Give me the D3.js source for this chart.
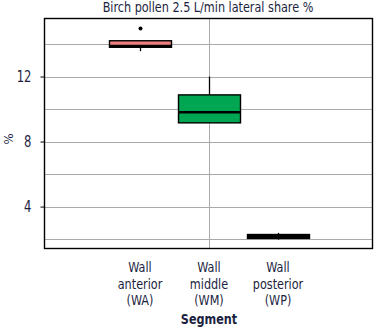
<!DOCTYPE html>
<html><head><meta charset="utf-8">
<script src="https://cdn.jsdelivr.net/npm/d3@7"></script>
<style>
html,body{margin:0;padding:0;background:#fff;}
text{font-family:"DejaVu Sans Condensed","DejaVu Sans",sans-serif;font-stretch:condensed;}
</style></head>
<body><svg id="c" width="374" height="329"></svg>
<script>
// Data
const categories = ["Wall anterior (WA)", "Wall middle (WM)", "Wall posterior (WP)"];
const labelLines = [["Wall","anterior","(WA)"],["Wall","middle","(WM)"],["Wall","posterior","(WP)"]];
const whiskerLow  = [13.56, 9.15, 1.97];
const q1          = [13.80, 9.15, 2.04];
const median      = [13.87, 9.80, 2.16];
const q3          = [14.20, 10.87, 2.28];
const whiskerHigh = [14.20, 12.00, 2.38];
const outliers    = [[14.95], [], []];
const fills = ["#f08080", "#00a651", "#111111"];
const yTicks = [4, 8, 12];
const yGrid = [2, 4, 6, 8, 10, 12, 14];

const svg = d3.select("#c");
const L = 44.5, R = 372.5, T = 18.5, B = 248.5;
const y = d3.scaleLinear().domain([1.42, 15.57]).range([B, T]);
const x = d3.scaleLinear().domain([0, 2]).range([140, 278]);
const boxW = 62;
const ink = "#1c1f3f";
const SQ = 0.86; // horizontal squeeze to mimic the narrow face

function squeeze(sel) {
  sel.each(function () {
    const w = this.getComputedTextLength();
    if (w > 0) d3.select(this).attr("textLength", w * SQ).attr("lengthAdjust", "spacingAndGlyphs");
  });
}

// grid
svg.append("g").selectAll("line").data(yGrid).join("line")
  .attr("x1", L).attr("x2", R)
  .attr("y1", d => Math.round(y(d)) + 0.5).attr("y2", d => Math.round(y(d)) + 0.5)
  .attr("stroke", "#aaaaaa").attr("stroke-width", 1);
svg.append("line").attr("x1", 209.5).attr("x2", 209.5).attr("y1", T).attr("y2", B)
  .attr("stroke", "#aaaaaa").attr("stroke-width", 1);

// y axis ticks
const yAxis = d3.axisLeft(y).tickValues(yTicks).tickSize(4).tickPadding(9).tickFormat(d3.format("d"));
const ga = svg.append("g").attr("transform", `translate(${L},0)`).call(yAxis);
ga.attr("font-family", null).attr("font-size", null);
ga.select(".domain").remove();
ga.selectAll(".tick line").attr("stroke", "#000");
ga.selectAll(".tick text").attr("fill", ink).style("font-size", "15px").attr("dy", "0.36em");
squeeze(ga.selectAll(".tick text"));

// boxes
const g = svg.append("g");
categories.forEach((c, i) => {
  const cx = Math.round(x(i)) + 0.5;
  g.append("line").attr("x1", cx).attr("x2", cx).attr("y1", y(q3[i])).attr("y2", y(whiskerHigh[i]))
    .attr("stroke", "#000").attr("stroke-width", 1.3);
  g.append("line").attr("x1", cx).attr("x2", cx).attr("y1", y(q1[i])).attr("y2", y(whiskerLow[i]))
    .attr("stroke", "#000").attr("stroke-width", 1.3);
  g.append("rect").attr("x", cx - boxW / 2).attr("width", boxW)
    .attr("y", y(q3[i])).attr("height", Math.max(1, y(q1[i]) - y(q3[i])))
    .attr("fill", fills[i]).attr("stroke", "#000").attr("stroke-width", 1.4);
  g.append("line").attr("x1", cx - boxW / 2).attr("x2", cx + boxW / 2)
    .attr("y1", y(median[i])).attr("y2", y(median[i]))
    .attr("stroke", "#000").attr("stroke-width", 2.6);
  outliers[i].forEach(o => {
    g.append("circle").attr("cx", cx).attr("cy", y(o)).attr("r", 2).attr("fill", "#000");
  });
});

// frame
svg.append("rect").attr("x", L).attr("y", T).attr("width", R - L).attr("height", B - T)
  .attr("fill", "none").attr("stroke", "#000").attr("stroke-width", 1.4);

// x labels
labelLines.forEach((lines, i) => {
  const t = svg.append("text").attr("text-anchor", "middle").attr("fill", ink).style("font-size", "14.5px");
  lines.forEach((ln, k) => {
    t.append("tspan").attr("x", x(i)).attr("y", 272 + k * 16.5).text(ln);
  });
  squeeze(t.selectAll("tspan"));
});
const seg = svg.append("text").attr("x", 209).attr("y", 324).attr("text-anchor", "middle")
  .attr("fill", ink).style("font-size", "14.5px").style("font-weight", "bold").text("Segment");
squeeze(seg);

// y label
svg.append("text").attr("transform", "translate(13,139) rotate(-90)").attr("text-anchor", "middle")
  .attr("fill", ink).style("font-size", "13px").text("%");

// title
const title = svg.append("text").attr("x", 208).attr("y", 12).attr("text-anchor", "middle")
  .attr("fill", ink).style("font-size", "14.5px").text("Birch pollen 2.5 L/min lateral share %");
squeeze(title);
</script></body></html>
